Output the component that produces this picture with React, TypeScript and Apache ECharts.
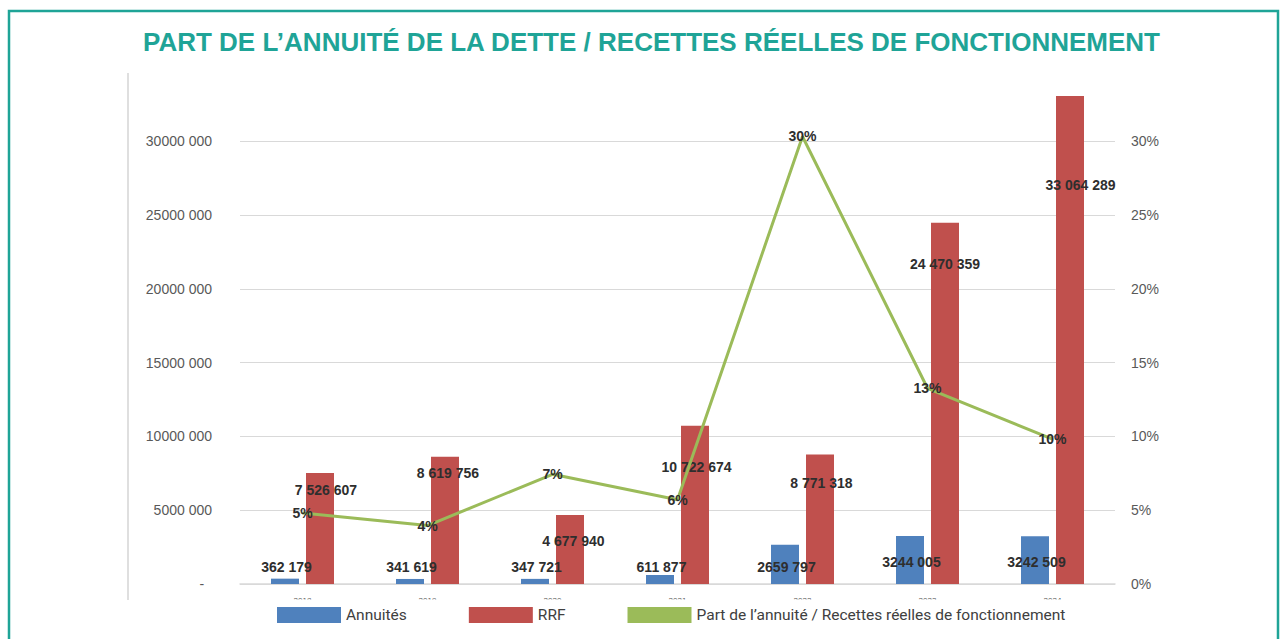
import React, { useEffect, useRef } from "react";
import * as echarts from "echarts";

const years = ["2018", "2019", "2020", "2021", "2022", "2023", "2024"];
const annuites = [362179, 341619, 347721, 611877, 2659797, 3244005, 3242509];
const rrf = [7526607, 8619756, 4677940, 10722674, 8771318, 24470359, 33064289];
const partPct = [4.81, 3.96, 7.43, 5.71, 30.32, 13.26, 9.81];

// label offsets (presentation only)
const rrfLabelOffsets = [[6, 9], [3, 8.5], [3.5, 18], [1.5, 33], [1.5, 20], [0, 33], [10.5, 81]];
const annLabelOffsets = [[1.5, 0], [1.5, 0], [1.5, 0], [1.5, 0], [1.5, 0], [1.5, -5], [1.5, -5]];

const BLUE = "#4f81bd";
const RED = "#c0504d";
const GREEN = "#9bbb59";
const TEAL = "#1fa497";
const LABEL_COLOR = "#2e2e2e";

const groupAll = (v: number) => String(v).replace(/\B(?=(\d{3})+(?!\d))/g, " ");
const groupLast = (v: number) => Math.floor(v / 1000) + " " + String(v % 1000).padStart(3, "0");

export default function App() {
  const ref = useRef<HTMLDivElement>(null);
  useEffect(() => {
    if (!ref.current) return;
    const chart = echarts.init(ref.current, null, { renderer: "svg" });
    const dataLabel = {
      fontFamily: "Liberation Sans, Arial, sans-serif",
      fontSize: 14,
      fontWeight: "bold",
      color: LABEL_COLOR,
      lineHeight: 16,
    };
    chart.setOption({
      animation: false,
      backgroundColor: "#ffffff",
      title: {
        text: "PART DE L’ANNUITÉ DE LA DETTE / RECETTES RÉELLES DE FONCTIONNEMENT",
        left: 143,
        top: 29,
        padding: 0,
        textStyle: {
          fontFamily: "Liberation Sans, Arial, sans-serif",
          fontSize: 26,
          fontWeight: "bold",
          color: TEAL,
        },
      },
      legend: {
        left: 277,
        top: 607,
        padding: 0,
        itemWidth: 64,
        itemHeight: 16,
        itemGap: 62,
        z: 5,
        textStyle: {
          fontFamily: "Roboto, sans-serif",
          fontSize: 15.5,
          color: "#404040",
        },
        data: [
          { name: "Annuités", icon: "rect" },
          { name: "RRF", icon: "rect" },
          { name: "Part de l’annuité / Recettes réelles de fonctionnement", icon: "rect" },
        ],
      },
      grid: { left: 240, right: 167, top: 67.4, bottom: 55 },
      xAxis: {
        type: "category",
        data: years,
        axisLine: { show: true, lineStyle: { color: "#d9d9d9", width: 1.5 } },
        axisTick: { show: false },
        axisLabel: {
          margin: 12,
          fontFamily: "Liberation Sans, Arial, sans-serif",
          fontSize: 8,
          color: "#595959",
        },
      },
      yAxis: [
        {
          type: "value",
          min: 0,
          max: 35000000,
          interval: 5000000,
          axisLine: { show: false },
          axisTick: { show: false },
          splitLine: { show: true, showMaxLine: false, lineStyle: { color: "#d9d9d9", width: 1 } },
          axisLabel: {
            showMaxLabel: false,
            margin: 28,
            fontFamily: "Liberation Sans, Arial, sans-serif",
            fontSize: 14,
            color: "#595959",
            formatter: (v: number) => (v === 0 ? "-  " : v > 30000000 ? "" : v / 1000 + " 000"),
          },
        },
        {
          type: "value",
          min: 0,
          max: 35,
          interval: 5,
          axisLine: { show: false },
          axisTick: { show: false },
          splitLine: { show: false },
          axisLabel: {
            showMaxLabel: false,
            margin: 16,
            fontFamily: "Liberation Sans, Arial, sans-serif",
            fontSize: 14,
            color: "#595959",
            formatter: (v: number) => (v > 30 ? "" : v + "%"),
          },
        },
      ],
      series: [
        {
          name: "Annuités",
          type: "bar",
          barWidth: 28,
          barGap: "25%",
          itemStyle: { color: BLUE },
          data: annuites.map((v, i) => ({
            value: v,
            label: { offset: annLabelOffsets[i] },
          })),
          label: {
            show: true,
            position: "insideBottom",
            distance: 9,
            ...dataLabel,
            formatter: (p: any) => groupLast(p.value),
          },
          z: 2,
        },
        {
          name: "RRF",
          type: "bar",
          barWidth: 28,
          barGap: "25%",
          itemStyle: { color: RED },
          data: rrf.map((v, i) => ({
            value: v,
            label: { offset: rrfLabelOffsets[i] },
          })),
          label: {
            show: true,
            position: "insideTop",
            distance: 0,
            ...dataLabel,
            formatter: (p: any) => groupAll(p.value),
          },
          z: 2,
        },
        {
          name: "Part de l’annuité / Recettes réelles de fonctionnement",
          type: "line",
          yAxisIndex: 1,
          data: partPct,
          symbol: "circle",
          symbolSize: 1,
          showSymbol: true,
          itemStyle: { color: GREEN },
          lineStyle: { color: GREEN, width: 3 },
          label: {
            show: true,
            position: "inside",
            ...dataLabel,
            formatter: (p: any) => Math.round(p.value) + "%",
          },
          z: 3,
        },
      ],
      graphic: [
        {
          type: "rect",
          z: 100,
          shape: { x: 9, y: 11, width: 1269, height: 700 },
          style: { fill: "none", stroke: TEAL, lineWidth: 2.5 },
        },
        {
          type: "line",
          z: 100,
          shape: { x1: 128, y1: 73, x2: 128, y2: 600 },
          style: { stroke: "#d4d4d4", lineWidth: 1.5 },
        },
        {
          type: "rect",
          z: 4,
          shape: { x: 200, y: 599.5, width: 960, height: 7 },
          style: { fill: "#ffffff" },
        },
      ],
    });
    return () => chart.dispose();
  }, []);
  return (
    <div
      ref={ref}
      style={{ position: "absolute", left: 0, top: 0, width: 1282, height: 639 }}
    />
  );
}
